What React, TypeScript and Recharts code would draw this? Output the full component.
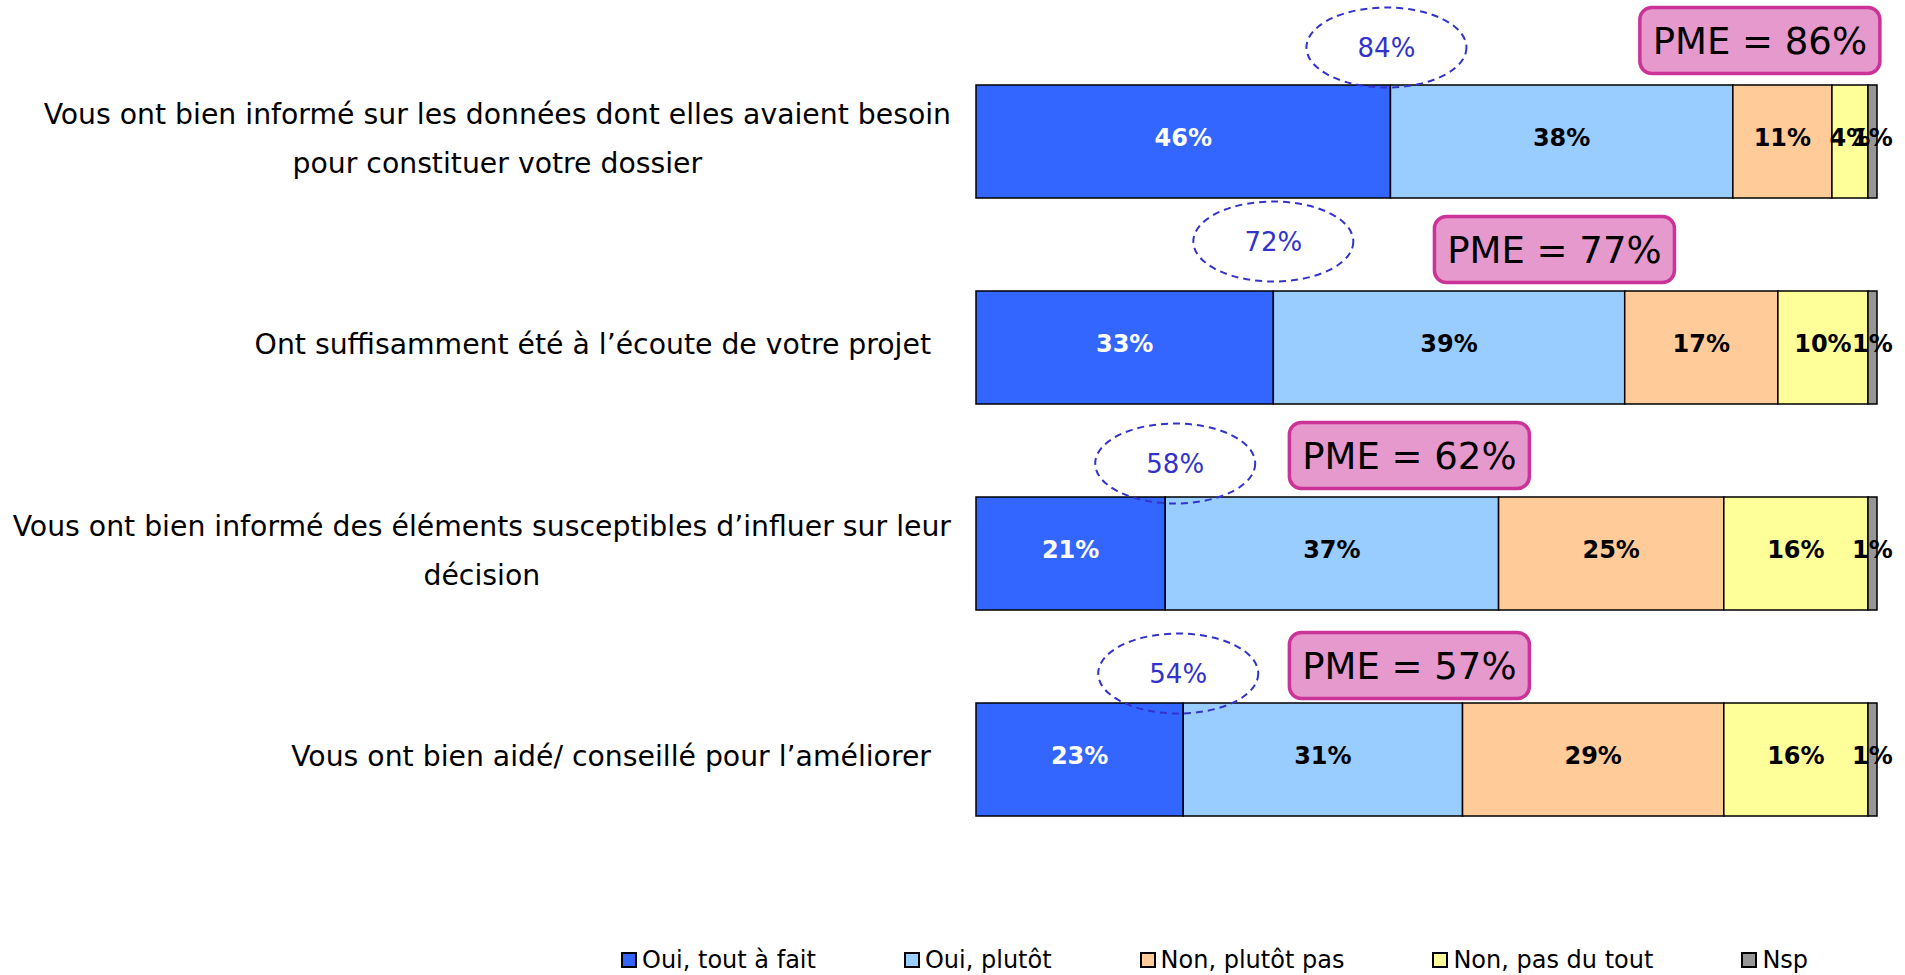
import { Bar, BarChart, LabelList, Legend, ReferenceDot, XAxis, YAxis } from "recharts";

const categories = [
  "Vous ont bien informé sur les données dont elles avaient besoin\npour constituer votre dossier",
  "Ont suffisamment été à l’écoute de votre projet",
  "Vous ont bien informé des éléments susceptibles d’influer sur leur\ndécision",
  "Vous ont bien aidé/ conseillé pour l’améliorer",
];

const ouiToutAFait = [46, 33, 21, 23];
const ouiPlutot = [38, 39, 37, 31];
const nonPlutotPas = [11, 17, 25, 29];
const nonPasDuTout = [4, 10, 16, 16];
const nsp = [1, 1, 1, 1];

// circled totals (oui) and the PME comparison boxes
const ouiTotal = [84, 72, 58, 54];
const pme = [86, 77, 62, 57];

const seriesNames = ["Oui, tout à fait", "Oui, plutôt", "Non, plutôt pas", "Non, pas du tout", "Nsp"];
const seriesKeys = ["tout", "plutot", "plutotPas", "pasDuTout", "nsp"];
const seriesColors = ["#3366FF", "#99CCFF", "#FFCC99", "#FFFF99", "#969696"];

// where the annotations sit (x in axis units, offsets in px)
const pmeCenter = [87, 64.2, 48.1, 48.1];
const pmeGap = [11, 8, 8, 4];
const ovalShift = [-4, 0, 10, -5];
const ovalLift = [37, 49, 33, 29];

const data = categories.map((name, i) => ({
  name,
  tout: ouiToutAFait[i],
  plutot: ouiPlutot[i],
  plutotPas: nonPlutotPas[i],
  pasDuTout: nonPasDuTout[i],
  nsp: nsp[i],
}));

const FONT = '"DejaVu Sans", Verdana, sans-serif';
const BAR = 113;
const Q_SIZE = 28.3;

let ctx: CanvasRenderingContext2D | null = null;
function textWidth(s: string, font: string) {
  if (!ctx) ctx = document.createElement("canvas").getContext("2d");
  if (!ctx) return s.length * 15;
  ctx.font = font;
  return ctx.measureText(s).width;
}

function QuestionTick({ x, y, payload }: any) {
  const lines = String(payload.value).split("\n");
  const common = { fontFamily: FONT, fontSize: Q_SIZE, fill: "#000" };
  if (lines.length === 1) {
    return (
      <text {...common} x={x - 45} y={y - 2.5} dy="0.35em" textAnchor="end">
        {lines[0]}
      </text>
    );
  }
  const w = Math.max(...lines.map((l) => textWidth(l, `${Q_SIZE}px ${FONT}`)));
  const cx = x - 25 - w / 2;
  return (
    <g>
      {lines.map((l, k) => (
        <text
          {...common}
          key={k}
          x={cx}
          y={y - 2.5 + (k - (lines.length - 1) / 2) * 49}
          dy="0.35em"
          textAnchor="middle"
        >
          {l}
        </text>
      ))}
    </g>
  );
}

function SegmentLabel({ x, y, width, height, value, color }: any) {
  return (
    <text
      x={x + width / 2}
      y={y + height / 2}
      dy={4}
      textAnchor="middle"
      fill={color}
      fontFamily={FONT}
      fontSize={24}
      fontWeight="bold"
    >
      {`${value}%`}
    </text>
  );
}

function Oval({ cx, cy, lift, value }: any) {
  const y = cy - BAR / 2 - lift;
  return (
    <g>
      <ellipse
        cx={cx}
        cy={y}
        rx={80}
        ry={40}
        fill="none"
        stroke="#3333CC"
        strokeWidth={2}
        strokeDasharray="7 5"
      />
      <text
        x={cx}
        y={y}
        dy="0.36em"
        textAnchor="middle"
        fill="#3333CC"
        fontFamily={FONT}
        fontSize={26}
      >
        {`${value}%`}
      </text>
    </g>
  );
}

function PmeBox({ cx, cy, gap, value }: any) {
  const w = 240;
  const h = 66;
  const top = cy - BAR / 2 - gap - h;
  return (
    <g>
      <rect
        x={cx - w / 2}
        y={top}
        width={w}
        height={h}
        rx={12}
        fill="#E699CC"
        stroke="#CC3399"
        strokeWidth={3.5}
      />
      <text
        x={cx}
        y={top + h / 2}
        dy="0.36em"
        textAnchor="middle"
        fill="#000"
        fontFamily={FONT}
        fontSize={37}
      >
        {`PME = ${value}%`}
      </text>
    </g>
  );
}

function LegendRow() {
  return (
    <div
      style={{
        display: "flex",
        alignItems: "center",
        fontFamily: FONT,
        fontSize: 24,
        lineHeight: "26px",
        whiteSpace: "nowrap",
        color: "#000",
      }}
    >
      {seriesNames.map((n, i) => (
        <div
          key={n}
          style={{ display: "flex", alignItems: "center", marginRight: i < seriesNames.length - 1 ? 88 : 0 }}
        >
          <span
            style={{
              display: "inline-block",
              width: 16,
              height: 16,
              boxSizing: "border-box",
              border: "2px solid #000",
              background: seriesColors[i],
              marginRight: 5,
            }}
          />
          {n}
        </div>
      ))}
    </div>
  );
}

export default function App() {
  return (
    <div style={{ width: 1905, height: 975, fontFamily: FONT }}>
      <style>{"body{margin:0}"}</style>
      <BarChart
        data={data}
        height={975}
        layout="vertical"
        margin={{ top: 38, right: 28, bottom: 113, left: 0 }}
        style={{ overflow: "visible" }}
        width={1905}
      >
        <XAxis domain={[0, 100]} hide type="number" />
        <YAxis
          axisLine={false}
          dataKey="name"
          tick={<QuestionTick />}
          tickLine={false}
          tickMargin={0}
          tickSize={0}
          type="category"
          width={976}
        />
        <Legend
          align="center"
          content={() => <LegendRow />}
          layout="horizontal"
          verticalAlign="middle"
          wrapperStyle={{ top: 947, left: 621, width: "auto" }}
        />
        {seriesKeys.map((k, i) => (
          <Bar
            barSize={BAR}
            dataKey={k}
            fill={seriesColors[i]}
            isAnimationActive={false}
            key={k}
            name={seriesNames[i]}
            stackId="a"
            stroke="#000"
            strokeWidth={1.5}
          >
            <LabelList
              content={(p: any) => <SegmentLabel {...p} color={i === 0 ? "#FFFFFF" : "#000000"} />}
              dataKey={k}
            />
          </Bar>
        ))}
        {categories.map((c, i) => (
          <ReferenceDot
            ifOverflow="visible"
            key={`oval-${i}`}
            shape={(p: any) => (
              <Oval cx={p.cx + ovalShift[i]} cy={p.cy} lift={ovalLift[i]} value={ouiTotal[i]} />
            )}
            x={ouiToutAFait[i]}
            y={c}
          />
        ))}
        {categories.map((c, i) => (
          <ReferenceDot
            ifOverflow="visible"
            key={`pme-${i}`}
            shape={(p: any) => <PmeBox cx={p.cx} cy={p.cy} gap={pmeGap[i]} value={pme[i]} />}
            x={pmeCenter[i]}
            y={c}
          />
        ))}
      </BarChart>
    </div>
  );
}
